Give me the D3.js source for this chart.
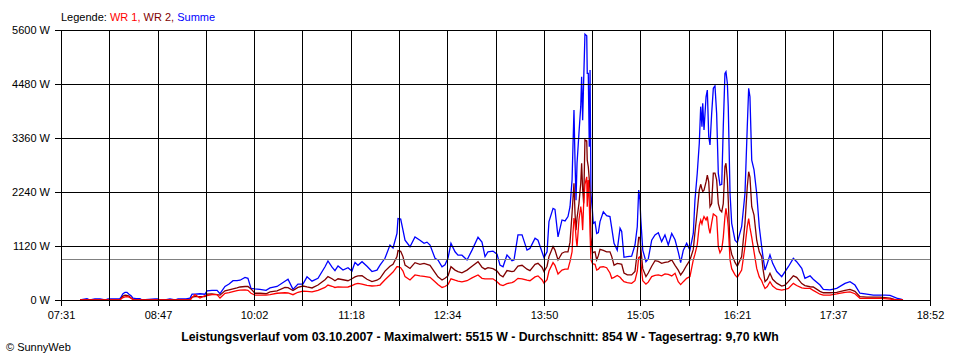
<!DOCTYPE html>
<html><head><meta charset="utf-8">
<script src="https://cdn.jsdelivr.net/npm/d3@7"></script>
<style>
body{margin:0;background:#fff}
svg{display:block}
text{font-family:"Liberation Sans",Arial,sans-serif;font-size:11px;fill:#000}
</style>
</head><body>
<svg id="chart" width="960" height="360"></svg>
<script>
// time of each sample, minutes since midnight
const times = [
465.9,471.4,473.7,477.6,481.6,485.5,487.8,491.0,494.1,497.2,
498.0,499.6,501.2,502.7,504.3,505.9,507.4,509.8,512.9,514.5,
524.7,527.0,528.6,532.5,536.4,540.3,542.7,545.8,549.0,552.1,
553.7,556.0,559.9,563.8,565.4,569.3,573.3,575.6,579.5,582.7,
585.8,588.9,591.3,595.2,597.5,599.9,603.0,606.9,611.7,614.8,
620.3,626.5,628.9,632.8,636.7,640.6,643.8,647.7,652.4,657.9,
660.2,663.4,665.7,668.1,672.0,675.9,679.0,681.4,683.7,686.9,
690.8,694.7,698.6,701.0,704.9,708.8,711.2,714.3,715.1,717.2,
719.0,720.6,724.5,728.4,732.3,735.5,737.8,740.2,744.1,746.4,
749.6,751.9,754.3,756.6,759.8,762.1,765.2,769.2,773.1,777.8,
780.9,783.3,785.6,789.5,792.7,795.0,797.4,800.5,804.4,806.0,
809.1,812.3,816.2,818.5,822.5,824.8,827.9,829.5,831.9,833.4,
836.6,838.1,840.5,843.6,846.0,848.3,849.9,851.5,852.2,853.0,
853.8,854.6,855.4,856.9,858.3,859.0,859.8,860.6,861.6,863.0,
863.4,864.2,865.0,865.6,866.3,867.4,868.1,869.5,870.8,872.1,
873.4,876.0,878.6,881.2,882.6,884.4,886.9,889.1,890.4,892.2,
894.8,898.2,900.8,902.6,903.7,904.7,905.3,906.9,909.4,911.2,
913.9,916.5,919.1,921.7,924.3,926.9,929.6,932.2,934.7,936.6,
938.7,941.3,943.9,946.5,947.8,949.6,951.2,952.3,953.3,953.9,
954.9,956.5,957.5,958.6,959.6,960.9,962.2,963.5,964.8,966.1,
967.4,968.8,970.0,971.3,972.1,973.2,973.9,975.3,976.6,979.2,
981.0,984.4,987.0,988.8,989.9,990.9,992.3,994.1,996.2,998.2,
1000.1,1001.1,1002.7,1004.5,1006.6,1008.7,1011.9,1015.8,1018.4,1021.0,
1024.9,1027.5,1031.5,1034.0,1038.0,1040.5,1045.8,1048.4,1053.6,1058.9,
1065.4,1069.3,1073.2,1077.1,1082.4,1087.6,1092.8,1096.7,1100.7,1105.9,
1109.8,1110.8
];

// WR 1 (W)
const wr1 = [
0,0,0,0,0,0,0,0,0,0,
20,50,65,70,60,40,10,0,0,0,
0,0,0,0,0,0,0,0,0,0,
50,110,40,90,90,110,110,40,140,155,
175,195,205,210,200,140,100,100,100,110,
140,150,145,110,160,185,180,170,200,260,
310,285,260,270,265,270,300,330,345,330,
305,290,300,310,420,520,580,690,690,670,
600,485,415,520,500,490,480,470,380,320,
260,280,320,440,410,390,375,400,460,520,
450,440,440,440,380,320,300,340,360,380,
450,440,410,400,480,500,420,350,420,600,
775,720,540,620,640,640,800,1000,1380,1700,
1600,1300,1105,1660,1935,1800,1450,2000,2400,2555,
1935,2490,2000,1380,830,760,750,740,620,640,
680,690,670,560,450,470,510,470,430,380,
360,345,400,600,880,900,800,400,330,370,
485,510,520,500,540,530,500,555,380,320,
380,450,485,830,950,1150,1550,1660,1580,1650,
1730,1660,1730,1500,1380,1600,1785,1760,1730,1105,
980,1050,1300,1730,1900,1700,1520,830,650,520,
470,620,1105,1520,1690,1500,1300,1000,655,480,
400,330,240,280,380,290,225,205,220,240,
345,300,250,240,240,200,120,100,100,125,
160,170,130,35,35,35,35,30,20,0,
0,0
];

// WR 2 (W)
const wr2 = [
0,0,0,0,0,0,0,0,0,0,
30,80,100,95,80,40,10,0,0,0,
0,0,0,0,0,0,0,0,0,0,
60,70,70,70,120,125,110,100,190,210,
230,250,270,280,280,230,140,140,130,170,
190,260,255,195,260,290,270,250,310,420,
485,440,400,440,420,400,440,480,500,505,
430,380,410,450,600,700,740,900,1025,1010,
900,725,655,775,740,760,740,720,570,480,
415,450,500,690,620,590,565,620,700,795,
680,640,670,650,600,520,480,610,590,600,
705,720,640,610,740,760,680,590,700,900,
1110,1035,830,970,1000,1000,1200,1800,2100,2420,
1800,1450,1700,2000,2420,2835,2300,2000,3320,3300,
2900,2765,2500,2210,1310,970,990,1000,830,920,
1050,1030,1000,1000,900,720,760,750,740,560,
520,520,590,1000,1300,1300,1100,650,485,560,
700,815,800,760,780,790,830,720,620,520,
600,720,830,1050,1400,1850,2280,2400,2300,2250,
2280,2450,2590,2450,1935,2000,2630,2630,2490,2000,
1870,1830,2000,2765,2835,2500,2070,1105,950,780,
700,900,1590,2350,2660,2550,1935,1760,1240,1000,
900,650,380,430,555,430,350,290,310,380,
500,470,340,300,275,270,180,150,150,160,
200,220,180,70,60,60,60,50,40,0,
0,0
];

// Summe (W)
const summe = [
0,25,0,25,25,0,25,25,25,30,
60,130,160,160,120,90,40,30,30,0,
25,25,0,0,25,0,25,25,25,40,
120,120,130,120,190,200,200,130,280,330,
400,400,410,470,450,240,230,220,200,250,
280,390,430,220,330,330,480,390,450,690,
810,680,610,705,620,670,600,780,720,795,
700,590,620,725,865,1140,1080,1380,1690,1680,
1450,1240,1105,1310,1240,1175,1200,1140,865,830,
690,730,870,1175,1000,930,930,830,1035,1300,
1200,900,1000,1015,950,725,690,935,815,830,
1350,1350,1035,1070,1280,1240,1000,880,1000,1625,
1900,1880,1310,1660,1640,1730,1935,2490,3180,3940,
2900,2070,2835,3460,4010,4630,3730,4560,5515,5480,
4700,4700,3180,4770,2210,1870,1590,1620,1380,1400,
1625,1830,1750,1730,1490,1175,1035,1490,1420,885,
900,910,1140,1520,2280,2070,1700,1035,795,850,
1240,1350,1395,1210,1350,1140,1380,1250,1000,775,
1035,1175,1035,1380,2070,2630,3250,4010,3595,4080,
3525,4215,4355,3390,3215,3870,4390,4440,3870,2630,
2385,2400,3595,4700,4735,4495,4010,2210,1590,1240,
1190,1520,2210,3595,4390,4215,2900,2700,2210,1520,
1105,900,620,760,935,760,590,485,590,690,
865,795,655,450,500,430,310,220,210,240,
345,380,310,140,120,100,100,100,95,40,
15,0
];

const yTicks = [0, 1120, 2240, 3360, 4480, 5600];
const xTickLabels = ["07:31","08:47","10:02","11:18","12:34","13:50","15:05","16:21","17:37","18:52"];
const timeStart = 451, timeEnd = 1132; // 07:31 .. 18:52
const xDivisions = 18;
const average = 854;
const legendItems = [
  {label: "WR 1, ", color: "#ff0000"},
  {label: "WR 2, ", color: "#800000"},
  {label: "Summe", color: "#0000ff"}
];
const captionText = "Leistungsverlauf vom 03.10.2007 - Maximalwert: 5515 W - Durchschnitt: 854 W - Tagesertrag: 9,70 kWh";
const copyrightText = "\u00A9 SunnyWeb";

const svg = d3.select("#chart");
const plotLeft = 61, plotRight = 930, plotTop = 30, plotBottom = 300;

const x = d3.scaleLinear().domain([timeStart, timeEnd]).range([plotLeft, plotRight]);
const y = d3.scaleLinear().domain([0, 5600]).range([plotBottom, plotTop]);

// data lines
const series = [
  {values: wr1, color: "#ff0000"},
  {values: wr2, color: "#800000"},
  {values: summe, color: "#0000ff"}
];
const line = d3.line().x(d => x(d[0])).y(d => y(d[1]));
const gData = svg.append("g");
series.slice().reverse().forEach(s => {
  gData.append("path")
    .datum(times.map((t, i) => [t, s.values[i]]))
    .attr("d", line)
    .attr("fill", "none")
    .attr("stroke", s.color)
    .attr("stroke-width", 1.3)
    .attr("stroke-linejoin", "miter");
});

// average line
svg.append("line")
  .attr("x1", plotLeft).attr("x2", plotRight)
  .attr("y1", Math.round(y(average)) + 0.5).attr("y2", Math.round(y(average)) + 0.5)
  .attr("stroke", "#808080").attr("stroke-width", 1)
  .attr("shape-rendering", "crispEdges");

// grid: horizontal
const gGrid = svg.append("g").attr("shape-rendering", "crispEdges");
yTicks.forEach(v => {
  const yy = Math.round(y(v)) + 0.5;
  gGrid.append("line").attr("x1", plotLeft - 6).attr("x2", plotRight + 1)
    .attr("y1", yy).attr("y2", yy).attr("stroke", "#000");
});
// grid: vertical
const xGridTimes = d3.range(xDivisions + 1).map(i => timeStart + i * (timeEnd - timeStart) / xDivisions);
xGridTimes.forEach(t => {
  const xx = Math.round(x(t)) + 0.5;
  gGrid.append("line").attr("x1", xx).attr("x2", xx)
    .attr("y1", plotTop).attr("y2", plotBottom + 6).attr("stroke", "#000");
});

// y labels
yTicks.forEach(v => {
  svg.append("text").attr("x", 50).attr("y", y(v) + 4)
    .attr("text-anchor", "end").text(v + " W");
});
// x labels
xTickLabels.forEach((lab, i) => {
  svg.append("text").attr("x", Math.round(x(xGridTimes[i * 2])) + 0.5).attr("y", 319)
    .attr("text-anchor", "middle").text(lab);
});

// legend
const lg = svg.append("text").attr("x", plotLeft).attr("y", 21);
lg.append("tspan").text("Legende: ");
legendItems.forEach(it => lg.append("tspan").style("fill", it.color).text(it.label));

// caption
svg.append("text").attr("x", 480).attr("y", 341).attr("text-anchor", "middle")
  .style("font-weight", "bold").style("font-size", "12.3px").text(captionText);
svg.append("text").attr("x", 6).attr("y", 351).text(copyrightText);
</script>
</body></html>
